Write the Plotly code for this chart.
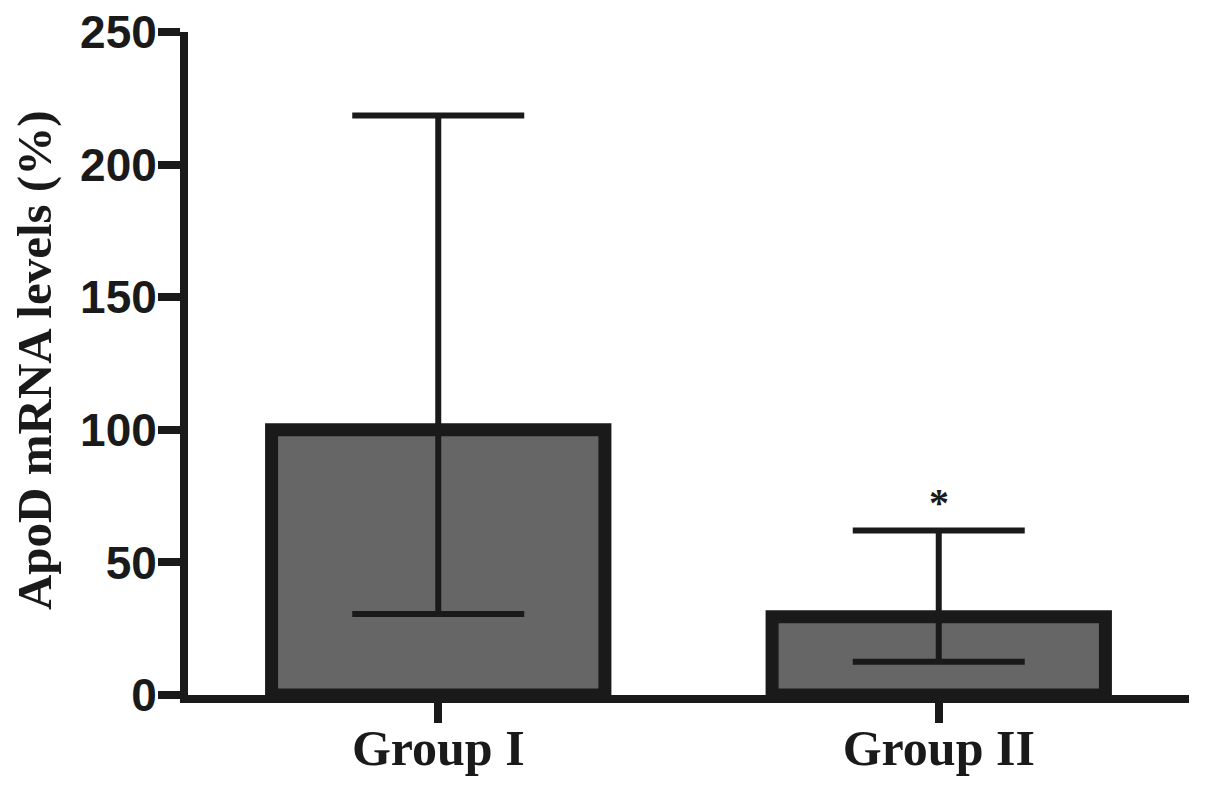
"""ApoD mRNA levels bar chart with asymmetric error bars."""

import plotly.graph_objects as go

groups = ["Group I", "Group II"]
means = [100, 29.5]
err_plus = [118.5, 32.5]
err_minus = [69.5, 17]
sig_marks = ["", "*"]
y_ticks = [0, 50, 100, 150, 200, 250]
y_title = "ApoD mRNA levels (%)"

INK = "#1a1a1a"
FILL = "#666666"

fig = go.Figure()
fig.add_trace(
    go.Bar(
        x=groups,
        y=means,
        width=0.666,
        marker=dict(color=FILL, line=dict(color=INK, width=13)),
        error_y=dict(
            type="data",
            symmetric=False,
            array=err_plus,
            arrayminus=err_minus,
            color=INK,
            thickness=6,
            width=86,
        ),
        showlegend=False,
    )
)

for g, m, e, s in zip(groups, means, err_plus, sig_marks):
    if s:
        fig.add_annotation(
            x=g,
            y=m + e,
            text=s,
            showarrow=False,
            yanchor="bottom",
            yshift=4,
            font=dict(family="Liberation Serif", size=40, color=INK, weight="bold"),
        )

# y-axis title as a rotated annotation so it can sit close to the paper edge
fig.add_annotation(
    xref="paper",
    yref="paper",
    x=-0.154,
    y=0.505,
    xanchor="center",
    yanchor="middle",
    text=y_title,
    textangle=-90,
    showarrow=False,
    font=dict(family="Liberation Serif", size=49, color=INK, weight="bold"),
)

fig.update_layout(
    width=1205,
    height=787,
    paper_bgcolor="white",
    plot_bgcolor="white",
    margin=dict(l=188, r=16, t=32, b=92),
)
fig.update_xaxes(
    range=[-0.5, 1.5],
    automargin=False,
    showline=True,
    linewidth=8,
    linecolor=INK,
    ticks="outside",
    ticklen=20,
    tickwidth=8,
    tickcolor=INK,
    ticklabelstandoff=-18,
    showgrid=False,
    tickfont=dict(family="Liberation Serif", size=50, color=INK, weight="bold"),
)
fig.update_yaxes(
    range=[0, 250],
    tickvals=y_ticks,
    automargin=False,
    showline=True,
    linewidth=8,
    linecolor=INK,
    ticks="outside",
    ticklen=22,
    tickwidth=8,
    tickcolor=INK,
    ticklabelstandoff=-8,
    showgrid=False,
    zeroline=False,
    tickfont=dict(family="Liberation Sans", size=46, color=INK, weight="bold"),
)

# the page body has a default 8px margin; drop it so the figure sits at 0,0
fig.write_html(
    "out.html",
    config={"displayModeBar": False},
    post_script="document.body.style.margin = '0px';",
)
